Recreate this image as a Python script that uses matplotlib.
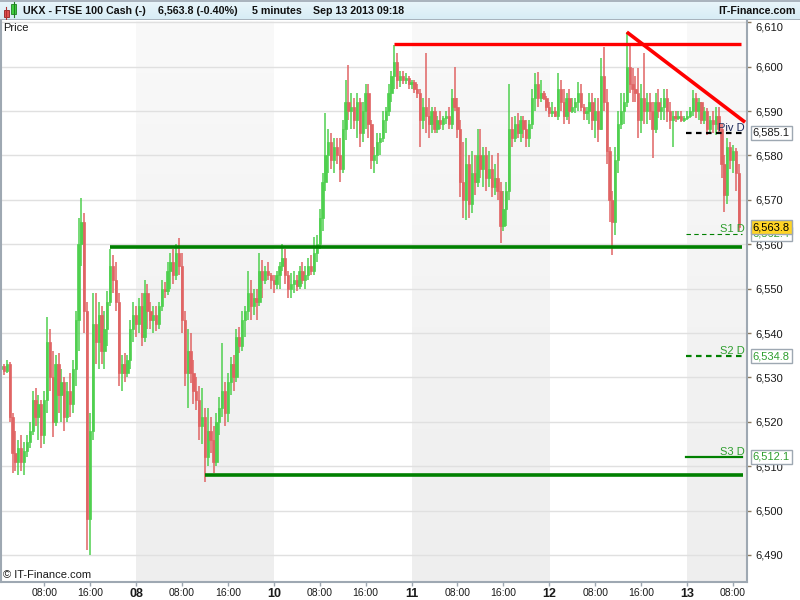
import numpy as np
import matplotlib
matplotlib.use("Agg")
import matplotlib.pyplot as plt
import matplotlib.transforms as mtransforms
from matplotlib.colors import LinearSegmentedColormap
from matplotlib.patches import Rectangle

plt.rcParams['font.family'] = ['Liberation Sans', 'DejaVu Sans']

# ---------------- data (30-minute aggregation of the 5-minute chart) ----------------
first_bar_hour = 0.5      # hours since start of the first day shown
bar_hours = 0.5           # bar interval (hours)

opens = [6532, 6532.5, 6531.5, 6533, 6521, 6513, 6511, 6514, 6511, 6513.5,
         6515.5, 6518, 6525, 6521, 6524, 6517, 6525, 6538, 6530, 6520,
         6533, 6526, 6529, 6521, 6527, 6524, 6532, 6543, 6560, 6565,
         6545, 6498, 6518, 6542, 6538, 6544, 6536, 6541, 6547, 6555,
         6552, 6547, 6531, 6533, 6531, 6534, 6541, 6544, 6542, 6546,
         6539, 6549, 6545, 6543, 6544, 6542, 6546, 6550, 6549.5, 6554,
         6556, 6553, 6558, 6555, 6543, 6531, 6536, 6531, 6527, 6525,
         6519, 6521, 6512, 6518, 6516, 6511, 6520, 6523, 6527, 6522,
         6529, 6533, 6530, 6539, 6537, 6543, 6545, 6549, 6546, 6548,
         6547, 6554, 6552, 6554, 6553, 6552, 6551, 6553, 6555, 6557,
         6553, 6550, 6551, 6552, 6550.5, 6554, 6552, 6553, 6555, 6554,
         6558, 6560, 6566, 6574, 6580, 6583, 6579, 6582, 6580, 6577,
         6586, 6592, 6590, 6591, 6588, 6592, 6585, 6590, 6594, 6587,
         6579, 6580, 6583, 6584, 6588, 6590, 6594, 6598, 6601, 6597,
         6598, 6597, 6597.5, 6596, 6596.5, 6595, 6594, 6588, 6591, 6589,
         6587, 6590, 6586, 6588, 6587, 6588.5, 6589, 6587, 6593, 6591,
         6586, 6574, 6570, 6578, 6569, 6576, 6574, 6580, 6577, 6580,
         6575, 6577, 6573, 6575, 6572, 6564, 6568, 6572, 6586, 6584,
         6587, 6585, 6588, 6586, 6584, 6587, 6593, 6596, 6593, 6594,
         6593, 6591, 6589.5, 6590, 6589, 6595, 6592, 6589, 6593, 6590,
         6591, 6592, 6594, 6591, 6589.5, 6590, 6592, 6588, 6590, 6586,
         6598, 6592, 6581, 6570, 6565, 6579, 6587, 6590, 6592, 6600,
         6596, 6595, 6594, 6588, 6593, 6590, 6592, 6590, 6586, 6592,
         6590, 6591, 6593, 6590, 6588, 6589, 6588.5, 6589, 6588, 6588.5,
         6589, 6590, 6593, 6590, 6592, 6588, 6590, 6586, 6588, 6587,
         6589, 6586, 6578, 6571, 6582, 6579, 6581, 6576]

highs = [6533.5, 6533, 6534, 6533.5, 6522, 6518, 6516, 6517, 6515.5, 6517,
         6520, 6527, 6527.5, 6526, 6525, 6527, 6543.5, 6541, 6536, 6535,
         6535.5, 6532, 6530, 6529, 6531, 6534, 6545, 6566, 6570.5, 6567,
         6547, 6522, 6549, 6549, 6547, 6546, 6545, 6549.5, 6559, 6557.5,
         6556, 6549, 6535, 6535.5, 6535, 6543, 6547, 6546, 6548, 6549,
         6552, 6551, 6547, 6546, 6546, 6547, 6552, 6551.5, 6556, 6558,
         6559, 6560, 6561.4, 6558, 6545, 6541, 6540, 6534, 6530, 6528,
         6527.5, 6523, 6523, 6521, 6519, 6522, 6525.6, 6537.7, 6529, 6531,
         6534.6, 6535, 6541, 6541.4, 6545, 6546, 6554, 6552, 6550, 6550,
         6558, 6556.4, 6555, 6556, 6553.5, 6553, 6554, 6556, 6560, 6559,
         6554, 6553.5, 6554, 6553, 6555, 6556, 6555, 6557, 6557.5, 6561.6,
         6562, 6568, 6576, 6589.5, 6586, 6585, 6584, 6584, 6584, 6588,
         6597, 6600.4, 6594, 6593, 6594, 6593, 6592, 6596, 6596, 6588,
         6582, 6585, 6585, 6590, 6591, 6596, 6599, 6605, 6603, 6599,
         6599, 6598.5, 6598, 6597, 6597, 6596, 6595, 6593, 6603, 6593,
         6591, 6591, 6589, 6590, 6589, 6590, 6591, 6595, 6600, 6593,
         6588, 6583, 6584, 6580, 6581, 6580, 6586, 6586, 6582, 6582,
         6581, 6580, 6578, 6580.5, 6574, 6572, 6574, 6596, 6588.6, 6589,
         6589.5, 6589, 6589, 6588, 6588, 6595, 6598.5, 6598.8, 6597, 6594.5,
         6593.5, 6592, 6592, 6591, 6598.5, 6597, 6595, 6594, 6595, 6593,
         6593, 6596.5, 6596, 6591.5, 6591, 6594, 6594, 6593, 6593, 6602,
         6604.4, 6595, 6582, 6572, 6582, 6590, 6594, 6594, 6607.8, 6605,
         6599.7, 6598, 6599.7, 6596, 6603, 6594, 6594, 6592, 6594, 6595,
         6593, 6595, 6595, 6592, 6590, 6590, 6590, 6590, 6589, 6590,
         6591, 6594.7, 6594, 6593, 6592, 6591, 6590.7, 6589, 6590, 6591,
         6591, 6587, 6580, 6584, 6583, 6582.3, 6581.7, 6578]

lows = [6531, 6530.5, 6531, 6520, 6508.5, 6509, 6508, 6509, 6508, 6512,
        6514, 6517, 6519, 6516, 6514, 6515, 6522, 6527, 6516.5, 6519,
        6522, 6520, 6518, 6520, 6521, 6522, 6528, 6536, 6555, 6540,
        6491, 6490, 6516, 6533, 6532, 6533, 6532, 6537, 6546, 6549,
        6545, 6528, 6527, 6529, 6530, 6532, 6538, 6539, 6540, 6537,
        6538, 6541, 6541, 6540, 6540.5, 6541, 6545, 6548, 6548.5, 6550,
        6551, 6552, 6553, 6540, 6528, 6523, 6528.7, 6524, 6522.6, 6516,
        6515, 6506.5, 6510, 6513, 6508.5, 6510, 6517, 6521, 6519, 6520,
        6526, 6527, 6529, 6535.5, 6536, 6539, 6543, 6543, 6544, 6543,
        6546, 6548, 6551, 6552, 6550, 6549, 6550, 6550, 6554, 6551,
        6548, 6548, 6549, 6549.5, 6550, 6551, 6550, 6552, 6553, 6553,
        6556, 6559, 6563, 6572, 6576, 6577, 6576, 6578, 6574, 6576,
        6583.5, 6588, 6586, 6586, 6584, 6582, 6583, 6586, 6584, 6577,
        6576, 6578, 6580, 6583, 6585, 6589, 6592, 6595, 6595, 6595.5,
        6596, 6596, 6595, 6595, 6594, 6593, 6582, 6586, 6585, 6584,
        6585, 6585, 6585, 6586, 6585.7, 6587, 6586, 6586, 6590, 6584,
        6570.6, 6566, 6565.5, 6566, 6567, 6571, 6573, 6575, 6573, 6572,
        6573, 6570.6, 6571, 6570, 6560.3, 6563, 6564, 6570, 6582, 6583,
        6584, 6583, 6584, 6582, 6582, 6586, 6590, 6591, 6592, 6592.5,
        6590, 6588.6, 6588.6, 6588.6, 6588, 6590, 6587, 6588, 6587, 6589.5,
        6589.5, 6590, 6590, 6588, 6588, 6587, 6585.7, 6584, 6583, 6585.7,
        6590, 6578, 6565, 6557.6, 6562, 6576, 6586, 6587, 6591, 6594,
        6592, 6592, 6584, 6585, 6587, 6587, 6588, 6579.4, 6585, 6588.4,
        6588, 6588, 6587.5, 6586, 6582, 6587.5, 6588, 6587.5, 6587.5, 6588,
        6588.4, 6589, 6588.4, 6588, 6587, 6587, 6584.6, 6585, 6585, 6584.6,
        6585, 6575, 6567.2, 6569, 6577, 6576, 6572, 6563]

closes = [6532.5, 6531.5, 6533, 6521, 6513, 6511, 6514, 6511, 6513.5, 6515.5,
          6518, 6525, 6521, 6524, 6517, 6525, 6538, 6530, 6520, 6533,
          6526, 6529, 6521, 6527, 6524, 6532, 6543, 6560, 6565, 6545,
          6498, 6518, 6542, 6538, 6544, 6536, 6541, 6547, 6555, 6552,
          6547, 6531, 6533, 6531, 6534, 6541, 6544, 6542, 6546, 6539,
          6549, 6545, 6543, 6544, 6542, 6546, 6550, 6549.5, 6554, 6556,
          6553, 6558, 6555, 6543, 6531, 6536, 6531, 6527, 6525, 6519,
          6521, 6512, 6518, 6516, 6511, 6520, 6523, 6527, 6522, 6529,
          6533, 6530, 6539, 6537, 6543, 6545, 6549, 6546, 6548, 6547,
          6554, 6552, 6554, 6553, 6552, 6551, 6553, 6555, 6557, 6553,
          6550, 6551, 6552, 6550.5, 6554, 6552, 6553, 6555, 6554, 6558,
          6560, 6566, 6574, 6580, 6583, 6579, 6582, 6580, 6577, 6586,
          6592, 6590, 6591, 6588, 6592, 6585, 6590, 6594, 6587, 6579,
          6580, 6583, 6584, 6588, 6590, 6594, 6598, 6601, 6597, 6598,
          6597, 6597.5, 6596, 6596.5, 6595, 6594, 6588, 6591, 6589, 6587,
          6590, 6586, 6588, 6587, 6588.5, 6589, 6587, 6593, 6591, 6586,
          6574, 6570, 6578, 6569, 6576, 6574, 6580, 6577, 6580, 6575,
          6577, 6573, 6575, 6572, 6564, 6568, 6572, 6586, 6584, 6587,
          6585, 6588, 6586, 6584, 6587, 6593, 6596, 6593, 6594, 6593,
          6591, 6589.5, 6590, 6589, 6595, 6592, 6589, 6593, 6590, 6591,
          6592, 6594, 6591, 6589.5, 6590, 6592, 6588, 6590, 6586, 6598,
          6592, 6581, 6570, 6565, 6579, 6587, 6590, 6592, 6600, 6596,
          6595, 6594, 6588, 6593, 6590, 6592, 6590, 6586, 6592, 6590,
          6591, 6593, 6590, 6588, 6589, 6588.5, 6589, 6588, 6588.5, 6589,
          6590, 6593, 6590, 6592, 6588, 6590, 6586, 6588, 6587, 6589,
          6586, 6578, 6571, 6582, 6579, 6581, 6576, 6563.8]

# drawn trend lines (hours, price)
resistance_hours = [69.0, 129.4]
resistance_level = 6605.1
downtrend_hours = [109.5, 130.1]
downtrend_prices = [6607.8, 6587.5]
support_hours = [19.5, 129.6]
support_level = 6559.4
support2_hours = [36.0, 129.7]
support2_level = 6508.1

# daily pivots
pivot_names = ['Piv D', 'S1 D', 'S2 D', 'S3 D']
pivot_levels = [6585.1, 6562.4, 6534.8, 6512.1]
pivot_hours = [119.8, 129.6]
last_price = 6563.8

# axes ticks
y_ticks = [6490, 6500, 6510, 6520, 6530, 6540, 6550, 6560, 6570, 6580, 6590, 6600, 6610]
x_tick_hours = [8, 16, 24, 32, 40, 48, 56, 64, 72, 80, 88, 96, 104, 112, 120, 128]
x_tick_labels = ['08:00', '16:00', '08', '08:00', '16:00', '10', '08:00', '16:00', '11',
                 '08:00', '16:00', '12', '08:00', '16:00', '13', '08:00']
shaded_days = [(24, 48), (72, 96), (120, 131)]

# ---------------- figure ----------------
W, H = 800, 600
fig = plt.figure(figsize=(8, 6), dpi=100, facecolor='white')

ax_left, ax_right, ax_top, ax_bot = 1, 747, 21, 582
ax = fig.add_axes([ax_left / W, 1 - ax_bot / H, (ax_right - ax_left) / W, (ax_bot - ax_top) / H])
xmin, xmax = 0.48, 130.44
ymin, ymax = 6483.9, 6610.3
ax.set_facecolor('white')

# shaded days (vertical gradient)
grad = np.linspace(0, 1, 256).reshape(-1, 1)
cmap_bg = LinearSegmentedColormap.from_list('bg', ['#f9f9f9', '#eeeeee'])
for d0, d1 in shaded_days:
    ax.imshow(grad, extent=(d0, d1, ymin, ymax), origin='upper', aspect='auto',
              cmap=cmap_bg, zorder=0)
ax.set_xlim(xmin, xmax)
ax.set_ylim(ymin, ymax)

# horizontal grid
ax.set_yticks(y_ticks)
ax.set_yticklabels([f'{v:,}' for v in y_ticks])
ax.set_axisbelow(True)
ax.yaxis.grid(True, color='#e0e0e0', lw=1.0)
ax.xaxis.grid(False)

# candles
o = np.array(opens); h = np.array(highs); l = np.array(lows); c = np.array(closes)
t = first_bar_hour + bar_hours * np.arange(len(c))
up_col, dn_col = '#4fd04f', '#e06464'
cols = np.where(c >= o, up_col, dn_col)
ax.vlines(t, l, h, colors=cols, lw=1.1, zorder=2)
ax.bar(t, np.abs(c - o), bottom=np.minimum(o, c), width=0.40, color=cols,
       edgecolor=cols, lw=0.5, zorder=2)

# trend lines
ax.plot(resistance_hours, [resistance_level] * 2, color='#ff0000', lw=2.4, zorder=4,
        solid_capstyle='butt')
ax.plot(downtrend_hours, downtrend_prices, color='#ff0000', lw=2.6, zorder=4,
        solid_capstyle='butt')
ax.plot(support_hours, [support_level] * 2, color='#008000', lw=2.6, zorder=4,
        solid_capstyle='butt')
ax.plot(support2_hours, [support2_level] * 2, color='#008000', lw=2.6, zorder=4,
        solid_capstyle='butt')

# pivots
piv_styles = [dict(color='#000000', lw=1.6, dashes=(2.5, 2)),
              dict(color='#008000', lw=0.8, dashes=(4, 3)),
              dict(color='#008000', lw=1.6, dashes=(2.5, 2)),
              dict(color='#008000', lw=1.6)]
piv_text_cols = ['#1c2a5a', '#2f9e2f', '#2f9e2f', '#2f9e2f']
trans_r = mtransforms.blended_transform_factory(ax.transAxes, ax.transData)
for name, lvl, st, tc in zip(pivot_names, pivot_levels, piv_styles, piv_text_cols):
    ax.plot(pivot_hours, [lvl, lvl], zorder=5, **st)
    ax.text(0.997, lvl, name, transform=trans_r,
            ha='right', va='bottom', fontsize=8, color=tc, zorder=6)

# spines / ticks
ax.spines['top'].set_visible(False)
for s in ['left', 'right', 'bottom']:
    ax.spines[s].set_color('#9ea8b2')
    ax.spines[s].set_linewidth(1.5)
ax.yaxis.tick_right()
ax.tick_params(axis='y', which='both', direction='out', length=3, width=1,
               color='#8a7a60', labelsize=8, labelcolor='#1a1a1a', pad=3)
ax.set_xticks(x_tick_hours)
ax.set_xticklabels(x_tick_labels)
ax.tick_params(axis='x', direction='out', length=3, width=1, color='#9ea8b2',
               labelsize=7.5, labelcolor='#1a1a1a', pad=1)
for lab in ax.get_xticklabels():
    if ':' not in lab.get_text():
        lab.set_fontweight('bold')
        lab.set_fontsize(9)
# top label shifted down like in the reference
top_tick = ax.yaxis.get_major_ticks()[-1]
top_tick.label2.set_verticalalignment('top')

# price boxes on the right axis (S1 box sits under the last-price box, as in the reference)
box_cols = ['#1a1a1a', '#2f9e2f', '#2f9e2f', '#2f9e2f']
for lvl, tc in zip(pivot_levels, box_cols):
    ax.text(1.0075, lvl, f'{lvl:,.1f}', transform=trans_r, ha='left', va='center',
            fontsize=8, color=tc, zorder=7, clip_on=False,
            bbox=dict(boxstyle='square,pad=0.18', fc='white', ec='#9ea8b2', lw=1))
ax.text(1.0075, last_price, f'{last_price:,.1f}', transform=trans_r, ha='left', va='center',
        fontsize=8, color='#000000', zorder=8, clip_on=False,
        bbox=dict(boxstyle='square,pad=0.18', fc='#ffd426', ec='#9ea8b2', lw=1))

# inner texts
fig.text(3 / W, 1 - 28 / H, 'Price', fontsize=8, color='#1a1a1a', va='center', ha='left')
fig.text(3 / W, 1 - 575 / H, '© IT-Finance.com', fontsize=8, color='#1a1a1a', va='center', ha='left')

# header bar
hax = fig.add_axes([0, 1 - 20 / H, 1, 20 / H])
hgrad = np.linspace(0, 1, 64).reshape(-1, 1)
hcmap = LinearSegmentedColormap.from_list('hd', ['#eaf6fb', '#d6ecf5'])
hax.imshow(hgrad, extent=(0, W, 20, 0), aspect='auto', cmap=hcmap, zorder=0)
hax.set_xlim(0, W)
hax.set_ylim(20, 0)
hax.axhline(0.5, color='#9ea8b2', lw=1.2)
hax.axhline(19.6, color='#9ea8b2', lw=1.2)
hax.axis('off')
# icon (small red & green candles)
hax.plot([6, 6], [7, 19], color='#b03030', lw=0.8)
hax.add_patch(Rectangle((3.5, 10), 5, 7, fc='#e05050', ec='#902020', lw=0.6))
hax.plot([13.5, 13.5], [2, 17], color='#208020', lw=0.8)
hax.add_patch(Rectangle((11, 4), 5, 10, fc='#40d040', ec='#208020', lw=0.6))
hdr = dict(fontsize=7.7, fontweight='bold', color='#101010', va='center')
hax.text(23, 11, 'UKX - FTSE 100 Cash (-)', ha='left', **hdr)
hax.text(158, 11, '6,563.8 (-0.40%)', ha='left', **hdr)
hax.text(252, 11, '5 minutes', ha='left', **hdr)
hax.text(313, 11, 'Sep 13 2013 09:18', ha='left', **hdr)
hax.text(796, 11, 'IT-Finance.com', ha='right', **hdr)

fig.savefig('out.png', dpi=100, facecolor='white')
